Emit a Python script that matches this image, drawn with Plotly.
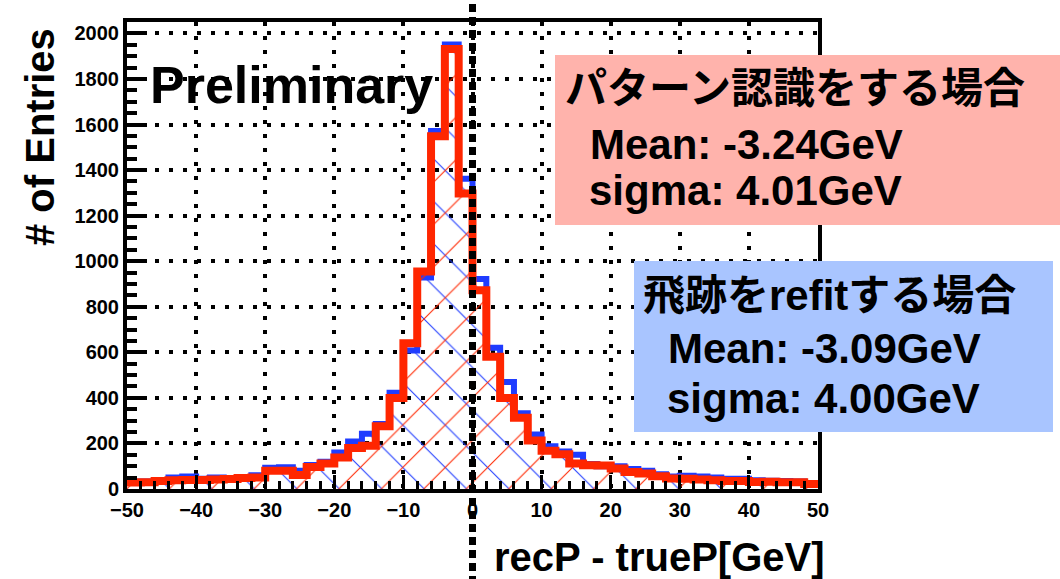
import plotly.graph_objects as go

# ---------------- data ----------------
x_min, x_max = -50, 50
bin_width = 2
bin_left_edges = list(range(x_min, x_max, bin_width))   # 50 bins, width 2 GeV

# パターン認識をする場合 (red)
counts_pattern = [28, 30, 35, 38, 40, 40, 42, 44, 48, 50,
                  80, 80, 62, 97, 112, 138, 180, 190, 275, 400,
                  640, 955, 1548, 1932, 1297, 872, 580, 400, 313, 213,
                  168, 152, 112, 104, 103, 90, 75, 68, 56, 46,
                  45, 42, 38, 35, 35, 31, 32, 30, 30, 22]

# 飛跡をrefitする場合 (blue)
counts_refit = [32, 33, 38, 50, 55, 45, 50, 45, 52, 60,
                93, 95, 80, 105, 120, 160, 209, 242, 285, 422,
                608, 928, 1572, 1951, 1362, 922, 620, 470, 333, 239,
                188, 165, 150, 110, 100, 100, 88, 80, 65, 55,
                58, 55, 50, 45, 45, 38, 36, 35, 33, 25]

x_tick_vals = [-50, -40, -30, -20, -10, 0, 10, 20, 30, 40, 50]
y_tick_vals = [0, 200, 400, 600, 800, 1000, 1200, 1400, 1600, 1800, 2000]
y_max = 2050

label_pattern = ["パターン認識をする場合", "Mean: -3.24GeV", "sigma: 4.01GeV"]
label_refit = ["飛跡をrefitする場合", "Mean: -3.09GeV", "sigma: 4.00GeV"]

# ---------------- layout geometry ----------------
W, H = 1060, 579
ML, MR, MT, MB = 127, 242, 22, 90
PW, PH = W - ML - MR, H - MT - MB


def px(x):
    return (x - ML) / PW


def py(y):
    return (H - MB - y) / PH


FONT = "Liberation Sans, Arial, Helvetica, sans-serif"
JFONT = "Liberation Sans, Noto Sans CJK JP, sans-serif"
RED = "#ff2600"
BLUE = "#1f3cff"

step_x = bin_left_edges + [x_max]

fig = go.Figure()

for counts, color, hatch, lw in [(counts_refit, BLUE, "\\", 6),
                                 (counts_pattern, RED, "/", 8)]:
    fig.add_trace(go.Scatter(
        x=step_x, y=counts + [counts[-1]],
        mode="lines", line=dict(color=color, width=lw, shape="hv"),
        fill="tozeroy", fillcolor="rgba(0,0,0,0)",
        fillpattern=dict(shape=hatch, fgcolor=color, bgcolor="rgba(0,0,0,0)",
                         fillmode="replace", size=30, solidity=0.035),
        showlegend=False, hoverinfo="skip",
    ))

grid = dict(showgrid=True, gridcolor="black", gridwidth=4, griddash="4px,10px")

fig.update_xaxes(
    range=[x_min, x_max], tickvals=x_tick_vals, ticks="inside", ticklen=14,
    tickwidth=3, tickcolor="black", showline=True, linecolor="black",
    linewidth=4, mirror=True, zeroline=False,
    tickfont=dict(family=FONT, size=20, color="black", weight="bold"),
    minor=dict(dtick=2, ticks="inside", ticklen=8, tickwidth=3,
               tickcolor="black", showgrid=False),
    **grid,
)
fig.update_yaxes(
    range=[0, y_max], tickvals=y_tick_vals, ticks="inside", ticklen=20,
    tickwidth=3.5, tickcolor="black", showline=True, linecolor="black",
    linewidth=4, mirror=True, zeroline=False,
    tickfont=dict(family=FONT, size=20, color="black", weight="bold"),
    minor=dict(dtick=50, ticks="inside", ticklen=10, tickwidth=3.5,
               tickcolor="black", showgrid=False),
    **grid,
)

shapes = []
# black dashed line at x = 0 across whole figure
x0p = (0 - x_min) / (x_max - x_min)
shapes.append(dict(type="line", xref="paper", yref="paper", x0=x0p, x1=x0p,
                   y0=py(H + 5), y1=py(-5), layer="above",
                   line=dict(color="black", width=7, dash="8px,5px")))
# legend boxes
shapes.append(dict(type="rect", xref="paper", yref="paper",
                   x0=px(555), x1=px(1065), y0=py(225), y1=py(55),
                   fillcolor="#ffb3ac", line=dict(width=0), layer="above"))
shapes.append(dict(type="rect", xref="paper", yref="paper",
                   x0=px(634), x1=px(1053), y0=py(432), y1=py(261),
                   fillcolor="#a9c5ff", line=dict(width=0), layer="above"))

ann = []


def add_text(text, x, y, size, family=FONT, xanchor="left", angle=0):
    ann.append(dict(text=text, xref="paper", yref="paper", x=px(x), y=py(y),
                    xanchor=xanchor, yanchor="middle", showarrow=False,
                    textangle=angle,
                    font=dict(family=family, size=size, color="black", weight="bold")))


add_text("Preliminary", 148, 85, 52)
add_text("# of Entries", 40, 137, 40, xanchor="center", angle=-90)
add_text("recP - trueP[GeV]", 492, 557, 40)

add_text(label_pattern[0], 563, 89, 42, family=JFONT)
add_text(label_pattern[1], 588, 144, 42)
add_text(label_pattern[2], 587, 191, 42)

add_text(label_refit[0], 641, 295, 42, family=JFONT)
add_text(label_refit[1], 666, 348, 42)
add_text(label_refit[2], 665, 398, 42)

fig.update_layout(
    width=W, height=H, autosize=False,
    margin=dict(l=ML, r=MR, t=MT, b=MB, pad=0),
    paper_bgcolor="white", plot_bgcolor="white",
    shapes=shapes, annotations=ann,
)

fig.write_html("out.html")
